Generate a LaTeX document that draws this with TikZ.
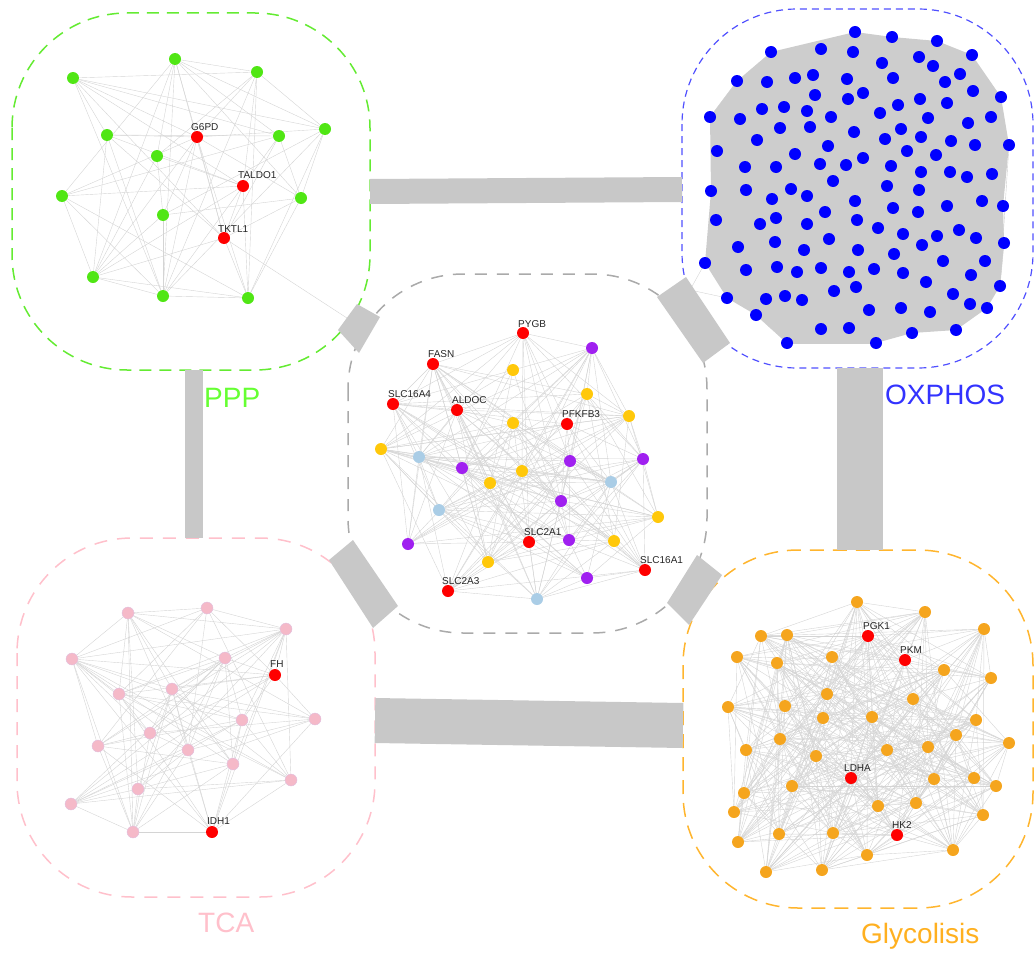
\documentclass[tikz,border=0pt]{standalone}
\usepackage{fontspec}
\setmainfont{Liberation Sans}
\pgfdeclarelayer{background}
\pgfsetlayers{background,main}
\definecolor{cRed}{RGB}{255,0,0}
\definecolor{cGreen}{RGB}{80,230,20}
\definecolor{cBlue}{RGB}{0,0,255}
\definecolor{cPink}{RGB}{245,185,200}
\definecolor{cOrange}{RGB}{245,165,30}
\definecolor{cYellow}{RGB}{255,200,10}
\definecolor{cPurple}{RGB}{160,32,240}
\definecolor{cLBlue}{RGB}{170,205,230}
\definecolor{bPPP}{RGB}{100,235,50}
\definecolor{bOX}{RGB}{80,80,255}
\definecolor{bCEN}{RGB}{170,170,170}
\definecolor{bTCA}{RGB}{255,192,203}
\definecolor{bGLY}{RGB}{255,181,46}
\definecolor{tPPP}{RGB}{102,255,51}
\definecolor{tOX}{RGB}{51,51,255}
\definecolor{tGLY}{RGB}{255,176,32}
\definecolor{barcol}{RGB}{200,200,200}
\definecolor{edgecol}{RGB}{212,212,212}
\definecolor{oxedge}{RGB}{205,205,205}
\newcommand\randedges[4]{%
  \foreach \i in {1,...,#2}{%
    \foreach \j in {\i,...,#2}{%
      \ifnum\j>\i
        \pgfmathtruncatemacro\myrnd{rnd<#3}%
        \ifnum\myrnd=1 \draw[#4] (#1\i) -- (#1\j);\fi
      \fi}}}
\tikzset{
  nd/.style={circle,inner sep=0pt,minimum size=12pt,draw=none},
  pinknd/.style={circle,inner sep=0pt,minimum size=12pt,draw=violet!25,line width=0.4pt},
  edge/.style={draw=edgecol,line width=0.4pt},
  oedge/.style={draw=oxedge,line width=0.4pt},
  clbox/.style={rectangle,inner sep=0pt,outer sep=0pt},
  clline/.style={rounded corners=115pt,line width=1.5pt},
  bar/.style={draw=barcol},
  lbl/.style={anchor=base west,inner sep=0pt,font=\fontsize{10}{11}\selectfont,text=black!85},
  ttl/.style={anchor=base west,inner sep=0pt,font=\fontsize{28}{30}\selectfont}
}
\begin{document}
\begin{tikzpicture}[x=1pt,y=-1pt]
\useasboundingbox (0,0) rectangle (1035,958);
% ---------- cluster boxes
\node[clbox,minimum width=358pt,minimum height=357pt] (PPPbox) at (191,191.5) {};
\node[clbox,minimum width=351pt,minimum height=359pt] (OXbox) at (857.5,188.5) {};
\node[clbox,minimum width=359pt,minimum height=359pt] (CENbox) at (527.5,453.5) {};
\node[clbox,minimum width=358pt,minimum height=359pt] (TCAbox) at (196,717.5) {};
\node[clbox,minimum width=350pt,minimum height=358pt] (GLYbox) at (858,729) {};
\draw[clline,draw=bPPP,dash pattern=on 12pt off 8pt] (PPPbox.north west) rectangle (PPPbox.south east);
\draw[clline,draw=bOX,dash pattern=on 7pt off 5pt,line width=1.2pt] (OXbox.north west) rectangle (OXbox.south east);
\draw[clline,draw=bCEN,dash pattern=on 12pt off 10pt] (CENbox.north west) rectangle (CENbox.south east);
\draw[clline,draw=bTCA,dash pattern=on 13pt off 10pt] (TCAbox.north west) rectangle (TCAbox.south east);
\draw[clline,draw=bGLY,dash pattern=on 14pt off 9pt] (GLYbox.north west) rectangle (GLYbox.south east);
% ---------- thick connectors between boxes
\draw[bar,line width=25pt] (PPPbox.east |- 0,191.5) -- (OXbox.west |- 0,189.5);
\draw[bar,line width=18pt] (194,0 |- PPPbox.south) -- (194,0 |- TCAbox.north);
\draw[bar,line width=46pt] (860,0 |- OXbox.south) -- (860,0 |- GLYbox.north);
\draw[bar,line width=45pt] (TCAbox.east |- 0,720.5) -- (GLYbox.west |- 0,725.5);
\fill[barcol] (338,330) -- (357,304) -- (380,317) -- (359,353) -- cycle;
\fill[barcol] (657,297) -- (686,277) -- (730,343) -- (703,363) -- cycle;
\fill[barcol] (329,560) -- (353,540) -- (398,606) -- (373,628) -- cycle;
\fill[barcol] (667,603) -- (697,555) -- (722,575) -- (689,625) -- cycle;
\coordinate (sPPP) at (350,320);
\coordinate (sOX) at (690,290);
% ---------- PPP nodes
\foreach \x/\y/\c [count=\k] in {73/78/cGreen,175/59/cGreen,257/72/cGreen,325/129/cGreen,279/136/cGreen,107/135/cGreen,157/156/cGreen,62/196/cGreen,301/198/cGreen,163/215/cGreen,93/277/cGreen,163/296/cGreen,248/298/cGreen,197/137/cRed,243/186/cRed,224/238/cRed}
  {\node[nd,fill=\c] (p\k) at (\x,\y) {};}
% ---------- central nodes
\foreach \x/\y/\c [count=\k] in {523/333/cRed,433/364/cRed,393/404/cRed,457/410/cRed,567/424/cRed,529/542/cRed,645/570/cRed,448/591/cRed,
  513/370/cYellow,587/394/cYellow,629/416/cYellow,513/423/cYellow,381/449/cYellow,522/471/cYellow,490/483/cYellow,658/517/cYellow,614/541/cYellow,488/562/cYellow,
  592/348/cPurple,462/468/cPurple,570/461/cPurple,643/459/cPurple,561/501/cPurple,569/540/cPurple,408/544/cPurple,587/578/cPurple,
  419/457/cLBlue,611/482/cLBlue,439/510/cLBlue,537/599/cLBlue}
  {\node[nd,fill=\c] (c\k) at (\x,\y) {};}
% ---------- OXPHOS nodes
\foreach \x/\y [count=\k] in {855/32,892/37,937/41,771/52,821/49,853/52,919/57,972/55,882/63,933/66,
  737/81,767/82,795/78,813/75,847/79,893/78,945/82,960/74,815/95,848/99,
  863/93,973/91,1001/97,710/117,740/119,762/109,784/107,807/111,831/117,880/113,
  898/105,920/99,947/103,928/118,991/117,780/128,810/127,854/132,901/129,968/123,
  757/140,885/139,921/137,951/141,975/145,1009/145,717/151,828/146,795/154,907/151,
  936/155,745/167,776/167,820/164,846/165,863/158,891/166,921/172,950/172,967/177,
  992/174,833/181,711/191,746/190,791/189,887/186,919/190,772/199,807/196,855/201,
  893/208,918/212,947/206,982/201,1003/206,716/220,760/224,776/218,807/224,825/212,
  857/220,878/228,903/234,937/236,959/230,976/238,1004/243,738/247,775/242,804/250,
  829/239,858/250,894/254,922/245,943/261,985/261,705/263,746/270,777/267,797/272,
  821/268,849/272,874/269,903/273,926/282,971/275,1000/286,727/298,766/299,785/296,
  802/300,834/291,856/287,953/294,869/310,901/308,930/312,970/304,987/308,756/315,
  821/329,849/328,912/333,956/330,787/343,876/343}
  {\node[nd,fill=cBlue] (o\k) at (\x,\y) {};}
% ---------- TCA nodes
\foreach \x/\y [count=\k] in {128/613,207/608,286/629,72/659,225/658,119/694,172/689,315/719,242/720,150/733,98/746,188/750,233/764,291/780,138/789,71/804,133/832}
  {\node[pinknd,fill=cPink] (t\k) at (\x,\y) {};}
\node[nd,fill=cRed] (t18) at (275,675) {};
\node[nd,fill=cRed] (t19) at (212,832) {};
% ---------- Glycolysis nodes
\foreach \x/\y/\c [count=\k] in {857/602/cOrange,925/612/cOrange,984/629/cOrange,761/636/cOrange,787/635/cOrange,737/657/cOrange,777/663/cOrange,832/657/cOrange,944/670/cOrange,991/678/cOrange,
  827/694/cOrange,913/699/cOrange,728/707/cOrange,785/706/cOrange,823/718/cOrange,872/717/cOrange,976/720/cOrange,956/735/cOrange,1009/743/cOrange,780/739/cOrange,
  746/750/cOrange,887/750/cOrange,928/747/cOrange,816/756/cOrange,792/786/cOrange,934/779/cOrange,974/778/cOrange,996/786/cOrange,744/793/cOrange,916/803/cOrange,
  878/806/cOrange,734/812/cOrange,983/815/cOrange,779/834/cOrange,833/833/cOrange,738/842/cOrange,867/855/cOrange,953/850/cOrange,766/872/cOrange,822/870/cOrange,
  868/636/cRed,905/660/cRed,851/778/cRed,897/835/cRed}
  {\node[nd,fill=\c] (g\k) at (\x,\y) {};}
% ---------- edges (background layer)
\begin{pgfonlayer}{background}
\fill[oxedge] (o1.center) -- (o2.center) -- (o3.center) -- (o8.center) -- (o23.center) -- (o46.center) -- (o75.center) -- (o87.center) -- (o107.center) -- (o119.center) -- (o124.center) -- (o123.center) -- (o126.center) -- (o125.center) -- (o120.center) -- (o108.center) -- (o97.center) -- (o63.center) -- (o24.center) -- (o11.center) -- (o4.center) -- cycle;
\pgfmathsetseed{7}
\randedges{p}{16}{0.55}{edge}
\randedges{c}{30}{0.45}{edge}
\randedges{t}{19}{0.6}{edge}
\randedges{g}{44}{0.42}{edge}
\randedges{o}{126}{0.12}{oedge}
\draw[edge] (p16) -- (sPPP);
\draw[edge] (o97) -- (sOX);
\draw[edge] (o108) -- (sOX);
\end{pgfonlayer}
% ---------- gene labels
\node[lbl] (lG6PD) at ([shift={(-6,-7)}]p14) {G6PD};
\node[lbl] (lTALDO1) at ([shift={(-5,-8)}]p15) {TALDO1};
\node[lbl] (lTKTL1) at ([shift={(-6,-6)}]p16) {TKTL1};
\node[lbl] (lPYGB) at ([shift={(-5,-6)}]c1) {PYGB};
\node[lbl] (lFASN) at ([shift={(-5,-7)}]c2) {FASN};
\node[lbl] (lSLC16A4) at ([shift={(-5,-7)}]c3) {SLC16A4};
\node[lbl] (lALDOC) at ([shift={(-5,-7)}]c4) {ALDOC};
\node[lbl] (lPFKFB3) at ([shift={(-5,-7)}]c5) {PFKFB3};
\node[lbl] (lSLC2A1) at ([shift={(-5,-7)}]c6) {SLC2A1};
\node[lbl] (lSLC16A1) at ([shift={(-5,-7)}]c7) {SLC16A1};
\node[lbl] (lSLC2A3) at ([shift={(-6,-7)}]c8) {SLC2A3};
\node[lbl] (lFH) at ([shift={(-5,-8)}]t18) {FH};
\node[lbl] (lIDH1) at ([shift={(-5,-8)}]t19) {IDH1};
\node[lbl] (lPGK1) at ([shift={(-5,-7)}]g41) {PGK1};
\node[lbl] (lPKM) at ([shift={(-5,-7)}]g42) {PKM};
\node[lbl] (lLDHA) at ([shift={(-7,-7)}]g43) {LDHA};
\node[lbl] (lHK2) at ([shift={(-5,-7)}]g44) {HK2};
% ---------- cluster titles
\node[ttl,text=tPPP] (tiPPP) at (204,407) {PPP};
\node[ttl,text=tOX] (tiOX) at (885,404) {OXPHOS};
\node[ttl,text=bTCA] (tiTCA) at (198,932) {TCA};
\node[ttl,text=tGLY] (tiGLY) at (861,943) {Glycolisis};
\end{tikzpicture}
\end{document}
